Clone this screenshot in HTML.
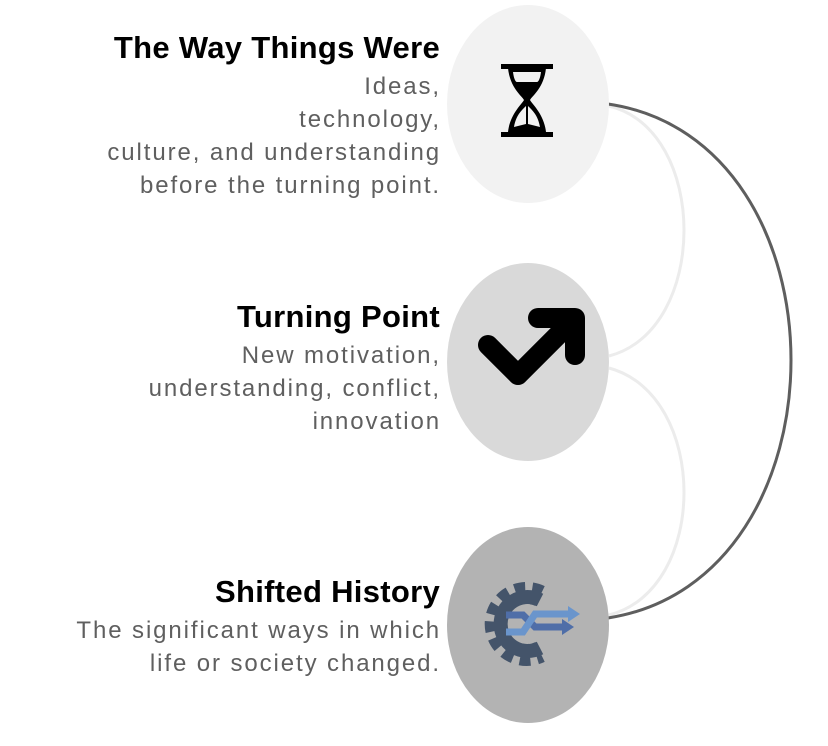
<!DOCTYPE html>
<html><head><style>
body{margin:0;width:828px;height:746px;background:#fff;position:relative;overflow:hidden;font-family:"Liberation Sans",sans-serif}
.t{position:absolute;right:388px;text-align:right;}
.h{font-weight:bold;font-size:31px;color:#000;letter-spacing:0.3px;line-height:36px}
.b{font-size:24px;color:#5f5f5f;line-height:33px;letter-spacing:1.9px;margin-top:4px;margin-right:-1px}
</style></head><body>
<svg width="828" height="746" style="position:absolute;left:0;top:0">
<path d="M609,106 C709,130 709,330 609,356" fill="none" stroke="#ececec" stroke-width="3"/>
<path d="M609,368 C709,395 709,590 609,615" fill="none" stroke="#ececec" stroke-width="3"/>
<path d="M608,104 C852,140 852,580 608,618" fill="none" stroke="#5e5e5e" stroke-width="3"/>
<ellipse cx="528" cy="104" rx="81" ry="99" fill="#f2f2f2"/>
<ellipse cx="528" cy="362" rx="81" ry="99" fill="#d9d9d9"/>
<ellipse cx="528" cy="625" rx="81" ry="98" fill="#b3b3b3"/>
<rect x="501" y="64" width="52" height="5" fill="#000"/>
<rect x="501" y="132" width="52" height="5" fill="#000"/>
<path d="M508,68 C510,88 522,96 524,100 C522,104 510,114 508,132 L546,132 C544,114 532,104 530,100 C532,96 544,88 546,68 Z M513,72 L541,72 C540,80 538,82 537,82 L517,82 C516,82 514,80 513,72Z M526,106 L526,124 L514,127 C516,115 522,110 526,106Z M528,106 L528,124 L540,127 C538,115 532,110 528,106Z" fill="#000" fill-rule="evenodd"/>
<path d="M488,345 L518,375 L568,325" fill="none" stroke="#000" stroke-width="20" stroke-linecap="round" stroke-linejoin="round"/>
<path d="M538,318 L575,318 L575,355" fill="none" stroke="#000" stroke-width="20" stroke-linejoin="round" stroke-linecap="round"/>
<g fill="none" stroke="#44546a" stroke-width="15" stroke-dasharray="9 6">
<path d="M540,596 A31,31 0 1 0 540,652" stroke-width="22"/>
</g>
<path d="M540,600 A27,27 0 1 0 540,648" fill="none" stroke="#44546a" stroke-width="14"/>
<path d="M506,615 L523,615 L535,627 L565,627" fill="none" stroke="#4f6ea8" stroke-width="7"/>
<path d="M506,632 L523,632 L535,614 L570,614" fill="none" stroke="#6a95cc" stroke-width="7"/>
<path d="M568,606 L580,614 L568,622Z" fill="#6a95cc"/>
<path d="M562,619 L574,627 L562,635Z" fill="#4f6ea8"/>
</svg>
<div class="t" style="top:30px"><div class="h">The Way Things Were</div><div class="b">Ideas,<br>technology,<br>culture, and understanding<br>before the turning point.</div></div>
<div class="t" style="top:299px"><div class="h">Turning Point</div><div class="b">New motivation,<br>understanding, conflict,<br>innovation</div></div>
<div class="t" style="top:574px"><div class="h">Shifted History</div><div class="b">The significant ways in which<br>life or society changed.</div></div>
</body></html>
